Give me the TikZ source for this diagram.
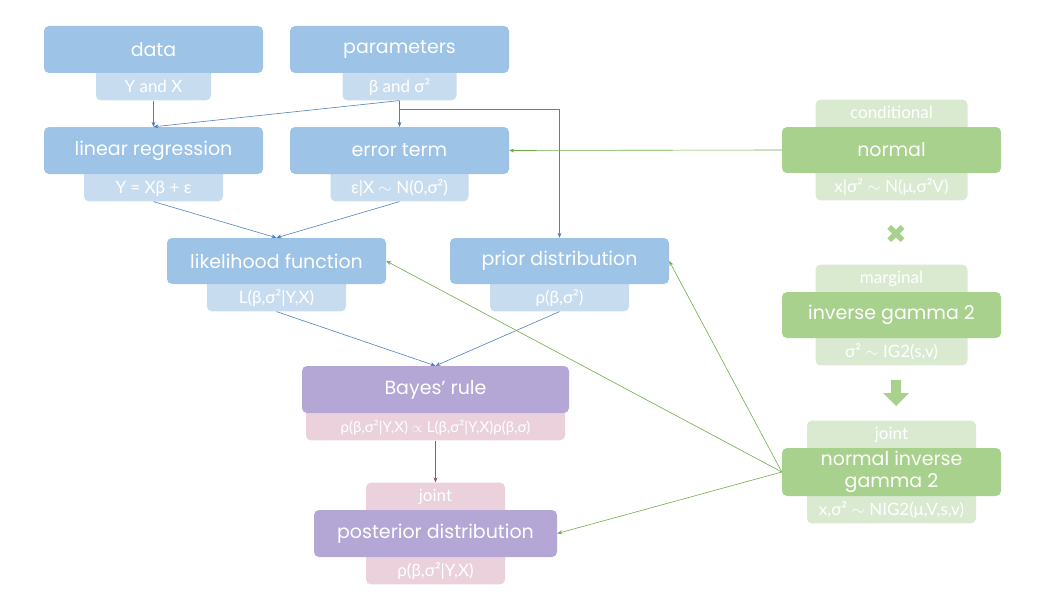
\documentclass[tikz,border=0pt]{standalone}
\usepackage{fontspec}
\setmainfont{Poppins}
\newfontfamily\subfont{Lato}
\newfontfamily\symfont{DejaVu Sans}
\usetikzlibrary{arrows.meta,positioning}
\pgfdeclarelayer{back}
\pgfsetlayers{back,main}

\definecolor{boxblue}{HTML}{9DC3E6}
\definecolor{subblue}{HTML}{C8DCF0}
\definecolor{boxpurple}{HTML}{B4A7D6}
\definecolor{subpink}{HTML}{EAD1DC}
\definecolor{boxgreen}{HTML}{A9D18E}
\definecolor{subgreen}{HTML}{D9EAD1}
\definecolor{lineblue}{HTML}{4F81BD}
\definecolor{linegreen}{HTML}{70AD47}
\definecolor{linepurple}{HTML}{A64D79}

\tikzset{
  mainbox/.style={rectangle, rounded corners=5pt, fill=#1, text=white,
    font=\fontsize{19}{22}\selectfont, minimum width=219pt, minimum height=47pt,
    inner sep=0pt, align=center},
  subbelow/.style={rectangle, rounded corners=5pt, fill=#1, text=white,
    font=\subfont\fontsize{17}{19}\selectfont, inner xsep=0pt, inner ysep=0pt,
    text height=27pt, text depth=8pt},
  subabove/.style={rectangle, rounded corners=5pt, fill=#1, text=white,
    font=\subfont\fontsize{17}{19}\selectfont, inner xsep=0pt, inner ysep=0pt,
    text height=19pt, text depth=16pt},
  link/.style={draw=#1, line width=0.6pt, -{Stealth[length=5pt,width=4pt]}}
}

\begin{document}
\begin{tikzpicture}[x=1pt, y=-1pt]
  \useasboundingbox (0,0) rectangle (1045,610);
  % Nodes
  \node (data) [mainbox=boxblue] at (153.5, 49.5) {data};
  \node (params) [mainbox=boxblue] at (399.5, 49.5) {parameters};
  \node (linreg) [mainbox=boxblue] at (153.5, 150.5) {linear regression};
  \node (err) [mainbox=boxblue] at (399.5, 150.5) {error term};
  \node (lik) [mainbox=boxblue, minimum height=46pt] at (276.5, 261) {likelihood function};
  \node (prior) [mainbox=boxblue, minimum height=46pt] at (559.5, 261) {prior distribution};
  \node (bayes) [mainbox=boxpurple, minimum width=267pt] at (435.5, 389.5) {Bayes' rule};
  \node (post) [mainbox=boxpurple, minimum width=243pt] at (435.5, 533.5) {posterior distribution};
  \node (norm) [mainbox=boxgreen, minimum height=46pt] at (891.5, 150) {normal};
  \node (times) [text=boxgreen, font=\symfont\fontsize{26}{26}\selectfont] at (896, 234) {✖};
  \node (ig) [mainbox=boxgreen, minimum height=46pt] at (891.5, 315) {inverse gamma 2};
  \node (nig) [mainbox=boxgreen, minimum height=48pt] at (891.5, 472) {normal inverse\\gamma 2};
  % Tabs
  \begin{pgfonlayer}{back}
    \node (data-s) [subbelow=subblue, minimum width=115pt, below=-8pt of data] {Y and X};
    \node (params-s) [subbelow=subblue, minimum width=114pt, below=-8pt of params] {β and σ²};
    \node (linreg-s) [subbelow=subblue, minimum width=139pt, below=-8pt of linreg] {Y = Xβ + ε};
    \node (err-s) [subbelow=subblue, minimum width=138pt, below=-8pt of err] {ε|X $\sim$ N(0,σ²)};
    \node (lik-s) [subbelow=subblue, minimum width=139pt, below=-8pt of lik] {L(β,σ²|Y,X)};
    \node (prior-s) [subbelow=subblue, minimum width=139pt, below=-8pt of prior] {ρ(β,σ²)};
    \node (bayes-s) [subbelow=subpink, minimum width=259pt, below=-8pt of bayes,
      font=\subfont\fontsize{15}{17}\selectfont] {ρ(β,σ²|Y,X) $\propto$ L(β,σ²|Y,X)ρ(β,σ)};
    \node (post-j) [subabove=subpink, minimum width=139pt, above=-8pt of post] {joint};
    \node (post-s) [subbelow=subpink, minimum width=139pt, below=-8pt of post] {ρ(β,σ²|Y,X)};
    \node (norm-c) [subabove=subgreen, minimum width=152pt, above=-8pt of norm] {conditional};
    \node (norm-s) [subbelow=subgreen, minimum width=152pt, below=-8pt of norm] {x|σ² $\sim$ N(μ,σ²V)};
    \node (ig-m) [subabove=subgreen, minimum width=152pt, above=-8pt of ig] {marginal};
    \node (ig-s) [subbelow=subgreen, minimum width=152pt, below=-8pt of ig] {σ² $\sim$ IG2(s,v)};
    \node (nig-j) [subabove=subgreen, minimum width=169pt, above=-8pt of nig] {joint};
    \node (nig-s) [subbelow=subgreen, minimum width=169pt, below=-8pt of nig] {x,σ² $\sim$ NIG2(μ,V,s,v)};
  \end{pgfonlayer}
  % Down arrow
  \fill[boxgreen] (891,380) -- (901,380) -- (901,393) -- (909,393) -- (896,406)
    -- (883,393) -- (891,393) -- cycle;
  \coordinate (split) at (399.5, 109);
  % Arrow
  \draw[link=lineblue] (data-s) -- (linreg);
  \draw[link=lineblue] (params-s.south) -- (linreg.north);
  \draw[link=lineblue] (params-s) -- (err);
  \draw[link=lineblue] (split) -| (prior.north);
  \draw[link=lineblue] (linreg-s.south) -- (lik.north);
  \draw[link=lineblue] (err-s.south) -- (lik.north);
  \draw[link=lineblue] (lik-s.south) -- (bayes.north);
  \draw[link=lineblue] (prior-s.south) -- (bayes.north);
  \draw[link=linepurple] (bayes-s) -- (post-j);
  \draw[link=linegreen] (norm.west) -- (err.east);
  \draw[link=linegreen] (nig.west) -- (lik.east);
  \draw[link=linegreen] (nig.west) -- (prior.east);
  \draw[link=linegreen] (nig.west) -- (post.east);
\end{tikzpicture}
\end{document}
